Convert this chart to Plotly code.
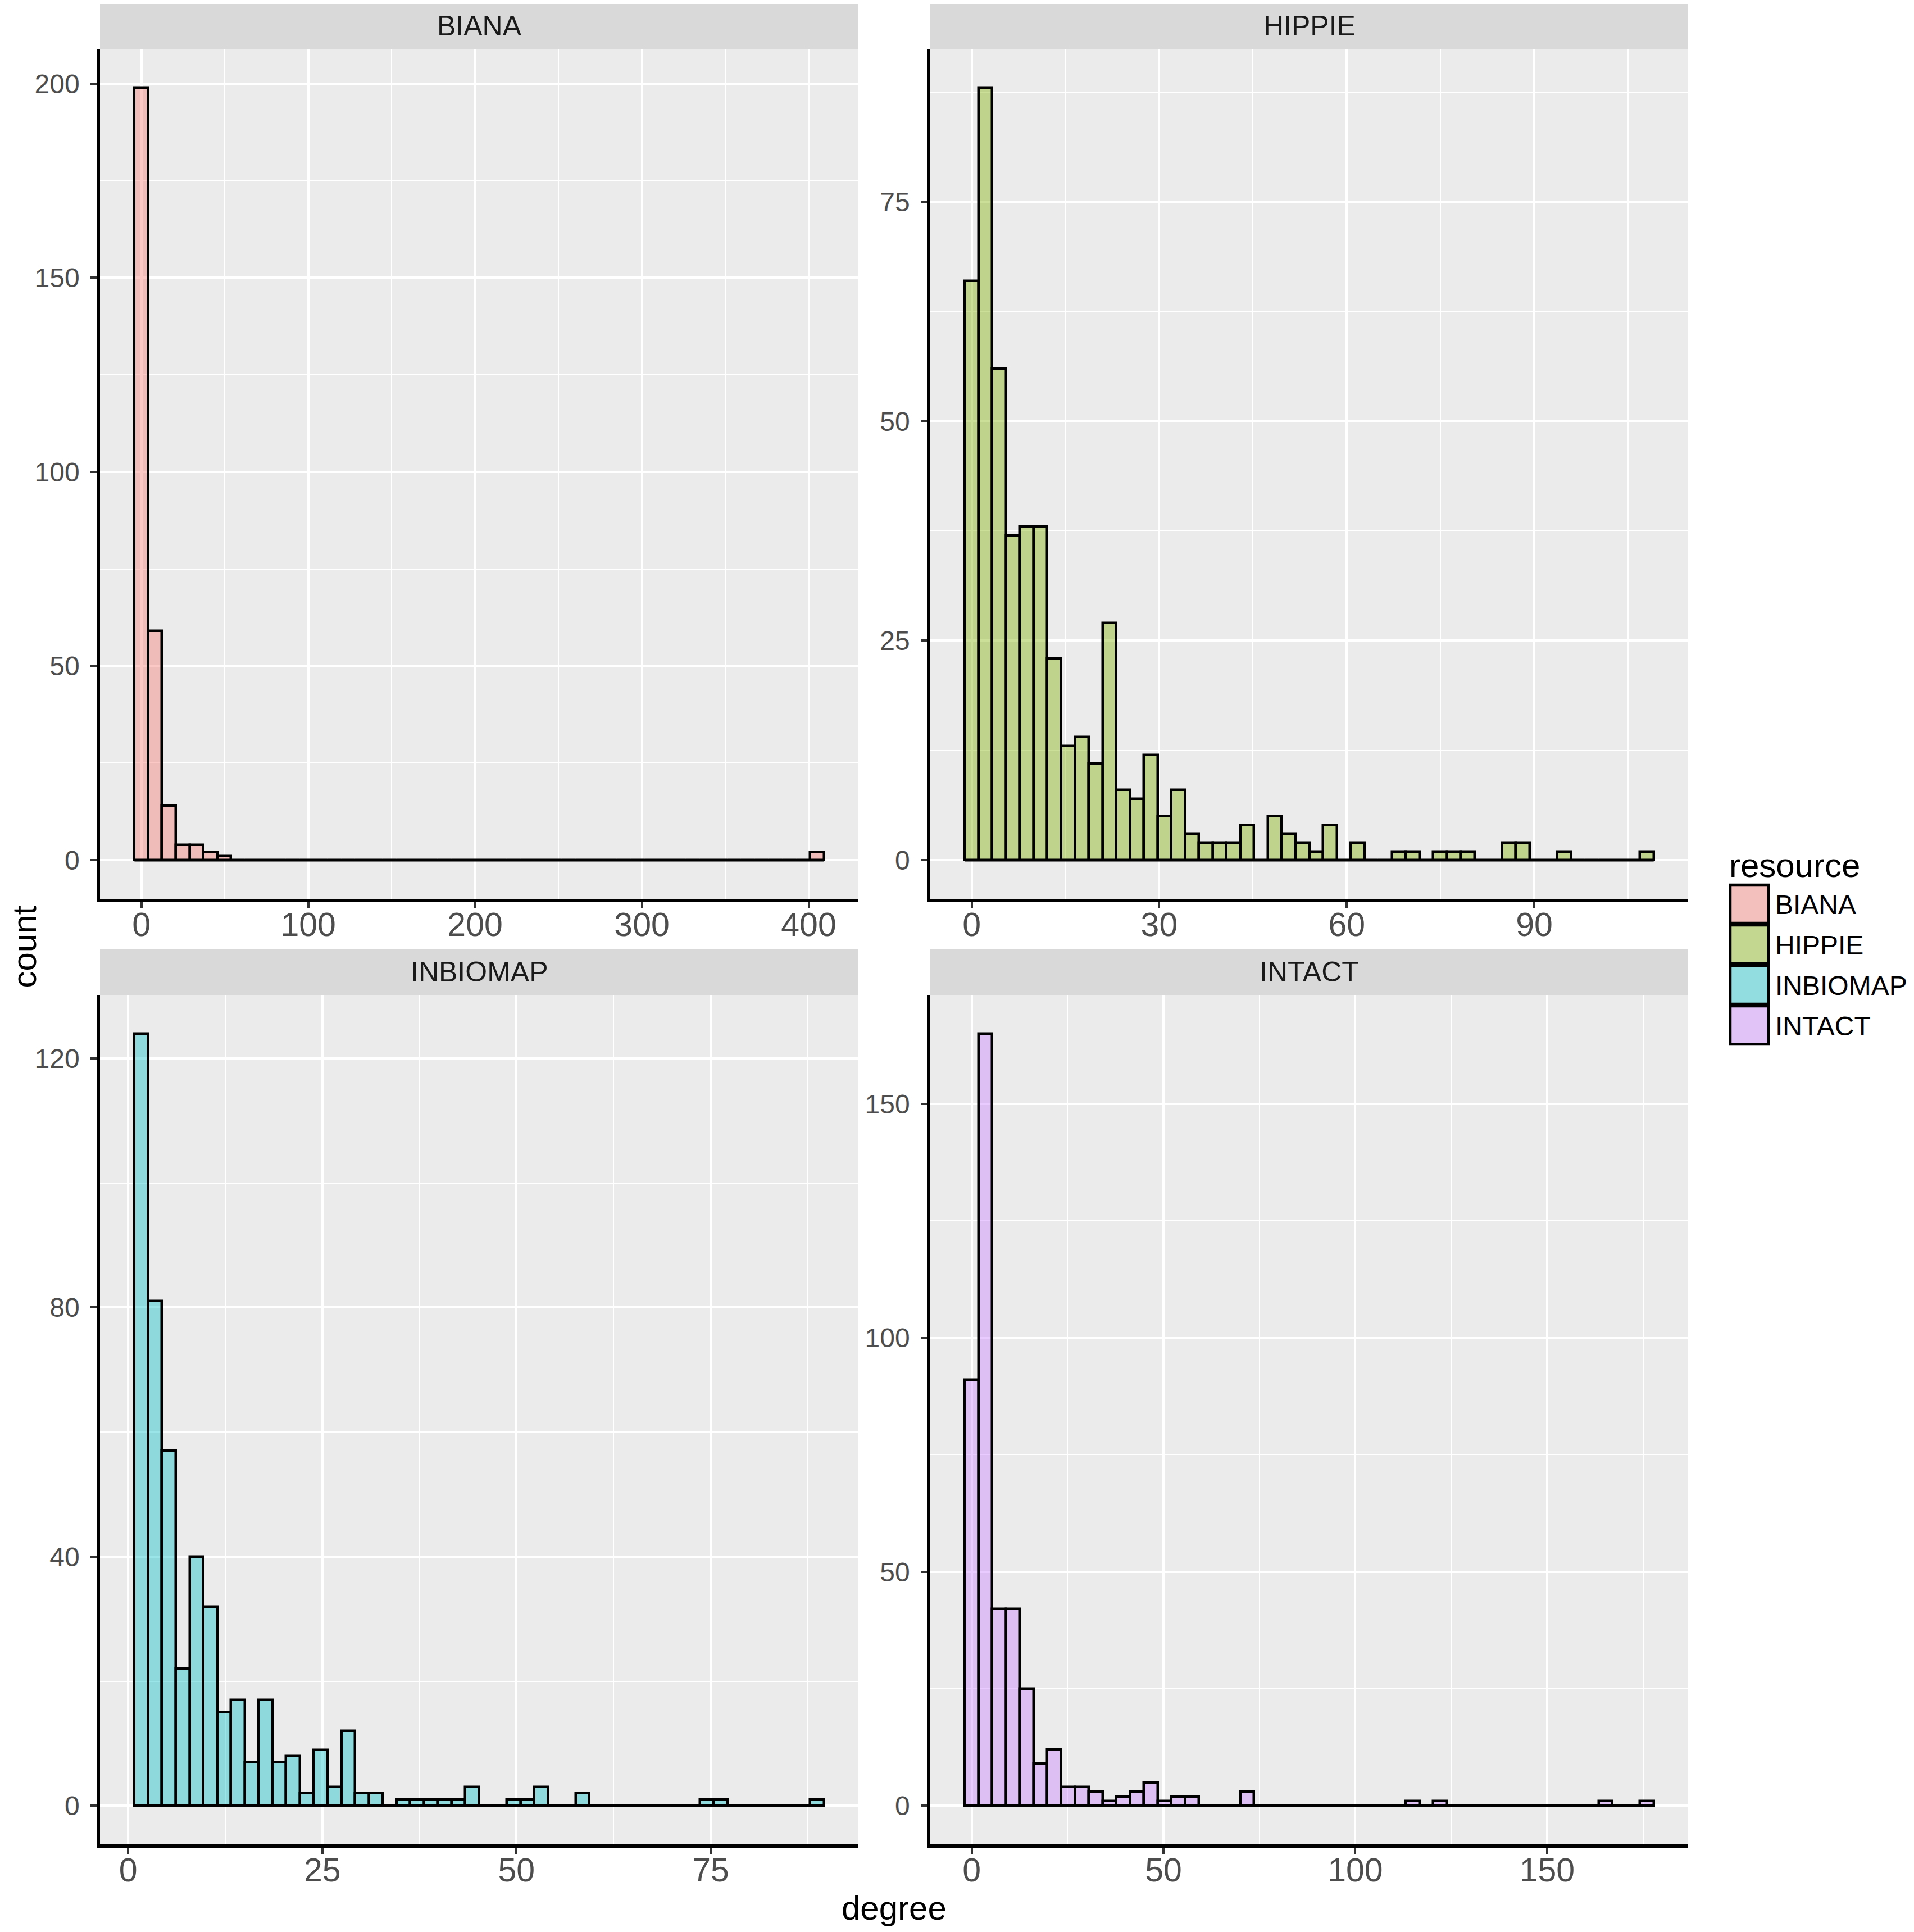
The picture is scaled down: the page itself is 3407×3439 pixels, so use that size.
import plotly.graph_objects as go

# ---- data ----
resources = ["BIANA", "HIPPIE", "INBIOMAP", "INTACT"]

# min / max degree per resource (ggplot bins = 50, centred on min and max)
biana_range = (0, 405)
hippie_range = (0, 108)
inbiomap_range = (1.7, 88.7)
intact_range = (0, 176)

biana_counts = [199, 59, 14, 4, 4, 2, 1, 0, 0, 0] + [0] * 39 + [2]
hippie_counts = [
    66, 88, 56, 37, 38, 38, 23, 13, 14, 11,
    27, 8, 7, 12, 5, 8, 3, 2, 2, 2,
    4, 0, 5, 3, 2, 1, 4, 0, 2, 0,
    0, 1, 1, 0, 1, 1, 1, 0, 0, 2,
    2, 0, 0, 1, 0, 0, 0, 0, 0, 1,
]
inbiomap_counts = [
    124, 81, 57, 22, 40, 32, 15, 17, 7, 17,
    7, 8, 2, 9, 3, 12, 2, 2, 0, 1,
    1, 1, 1, 1, 3, 0, 0, 1, 1, 3,
    0, 0, 2, 0, 0, 0, 0, 0, 0, 0,
    0, 1, 1, 0, 0, 0, 0, 0, 0, 1,
]
intact_counts = [
    91, 165, 42, 42, 25, 9, 12, 4, 4, 3,
    1, 2, 3, 5, 1, 2, 2, 0, 0, 0,
    3, 0, 0, 0, 0, 0, 0, 0, 0, 0,
    0, 0, 1, 0, 1, 0, 0, 0, 0, 0,
    0, 0, 0, 0, 0, 0, 1, 0, 0, 1,
]

x_dticks = [100, 30, 25, 50]
y_dticks = [50, 25, 40, 50]

fill_colors = [
    "rgba(248,118,109,0.4)",
    "rgba(124,174,0,0.4)",
    "rgba(0,191,196,0.4)",
    "rgba(199,124,255,0.4)",
]

ranges = [biana_range, hippie_range, inbiomap_range, intact_range]
counts = [biana_counts, hippie_counts, inbiomap_counts, intact_counts]

# ---- layout geometry (page pixels, 3407 x 3439 window) ----
PAGE_W, PAGE_H = 3407, 3439
BODY = 8  # default body margin of the html page
W, H = PAGE_W - 2 * BODY, PAGE_H - 2 * BODY
col_px = [(178, 1528), (1656, 3005)]
row_px = [(87, 1600), (1771, 3283)]  # panel top/bottom
strip_h = 82
FONT = "Liberation Sans, Arial, sans-serif"
BAR_LINE = 4.5


def px_x(p):
    return (p - BODY) / W


def px_y(p):
    return 1 - (p - BODY) / H


fig = go.Figure()
layout = {}
shapes = []
annotations = []

for k, name in enumerate(resources):
    r, c = divmod(k, 2)
    sfx = "" if k == 0 else str(k + 1)
    lo, hi = ranges[k]
    n = len(counts[k])
    width = (hi - lo) / (n - 1)
    centers = [lo + i * width for i in range(n)]
    left_edge = lo - width / 2
    right_edge = hi + width / 2
    span = right_edge - left_edge
    ymax = max(counts[k])

    fig.add_trace(
        go.Bar(
            x=centers,
            y=counts[k],
            width=width,
            marker=dict(color=fill_colors[k], line=dict(color="black", width=BAR_LINE)),
            xaxis="x" + sfx,
            yaxis="y" + sfx,
            showlegend=False,
            name=name,
        )
    )
    # zero-height bins still draw their outline in ggplot
    fig.add_trace(
        go.Scatter(
            x=[left_edge, right_edge],
            y=[0, 0],
            mode="lines",
            line=dict(color="black", width=BAR_LINE),
            xaxis="x" + sfx,
            yaxis="y" + sfx,
            showlegend=False,
            hoverinfo="skip",
        )
    )

    x0, x1 = col_px[c]
    top, bottom = row_px[r]
    common = dict(
        showline=True,
        linecolor="black",
        linewidth=5.5,
        ticks="outside",
        ticklen=11,
        tickwidth=4,
        tickcolor="#333333",
        showgrid=True,
        gridcolor="white",
        gridwidth=4,
        zeroline=False,
        tick0=0,
    )
    layout["xaxis" + sfx] = dict(
        common,
        domain=[px_x(x0), px_x(x1)],
        anchor="y" + sfx,
        range=[left_edge - 0.05 * span, right_edge + 0.05 * span],
        dtick=x_dticks[k],
        minor=dict(dtick=x_dticks[k] / 2, tick0=0, showgrid=True,
                   gridcolor="white", gridwidth=2, ticks=""),
        tickfont=dict(family=FONT, size=59, color="#4D4D4D"),
        ticklabelstandoff=-22,
    )
    layout["yaxis" + sfx] = dict(
        common,
        domain=[px_y(bottom), px_y(top)],
        anchor="x" + sfx,
        range=[-0.05 * ymax, 1.05 * ymax],
        dtick=y_dticks[k],
        minor=dict(dtick=y_dticks[k] / 2, tick0=0, showgrid=True,
                   gridcolor="white", gridwidth=2, ticks=""),
        tickfont=dict(family=FONT, size=48, color="#4D4D4D"),
        ticklabelstandoff=10,
    )

    # facet strip
    shapes.append(dict(
        type="rect", xref="paper", yref="paper",
        x0=px_x(x0), x1=px_x(x1), y0=px_y(top), y1=px_y(top - strip_h),
        fillcolor="#D9D9D9", line=dict(width=0), layer="below",
    ))
    annotations.append(dict(
        text=name, xref="paper", yref="paper",
        x=px_x((x0 + x1) / 2), y=px_y(top - strip_h / 2),
        showarrow=False, xanchor="center", yanchor="middle",
        font=dict(family=FONT, size=50, color="#1A1A1A"),
    ))

# axis titles
annotations.append(dict(
    text="degree", xref="paper", yref="paper",
    x=px_x(1591), y=px_y(3396), showarrow=False,
    xanchor="center", yanchor="middle",
    font=dict(family=FONT, size=60, color="black"),
))
annotations.append(dict(
    text="count", xref="paper", yref="paper",
    x=0, y=px_y(1685), showarrow=False, textangle=-90,
    xanchor="left", yanchor="middle", borderpad=0,
    font=dict(family=FONT, size=60, color="black"),
))

# legend (drawn by hand so the keys match ggplot's size)
annotations.append(dict(
    text="resource", xref="paper", yref="paper",
    x=px_x(3076), y=px_y(1540), showarrow=False,
    xanchor="left", yanchor="middle",
    font=dict(family=FONT, size=60, color="black"),
))
for k, name in enumerate(resources):
    key_top = 1575 + k * 72
    # grey key background, then the translucent fill on top
    shapes.append(dict(
        type="rect", xref="paper", yref="paper",
        x0=px_x(3080), x1=px_x(3148),
        y0=px_y(key_top + 68), y1=px_y(key_top),
        fillcolor="#F2F2F2", line=dict(width=0),
    ))
    shapes.append(dict(
        type="rect", xref="paper", yref="paper",
        x0=px_x(3080), x1=px_x(3148),
        y0=px_y(key_top + 68), y1=px_y(key_top),
        fillcolor=fill_colors[k], line=dict(color="black", width=4.5),
    ))
    annotations.append(dict(
        text=name, xref="paper", yref="paper",
        x=px_x(3158), y=px_y(key_top + 35), showarrow=False,
        xanchor="left", yanchor="middle",
        font=dict(family=FONT, size=48, color="black"),
    ))

fig.update_layout(
    **layout,
    width=W,
    height=H,
    margin=dict(l=0, r=0, t=0, b=0),
    paper_bgcolor="white",
    plot_bgcolor="#EBEBEB",
    bargap=0,
    barmode="overlay",
    shapes=shapes,
    annotations=annotations,
    showlegend=False,
)

fig.write_html("out.html")
